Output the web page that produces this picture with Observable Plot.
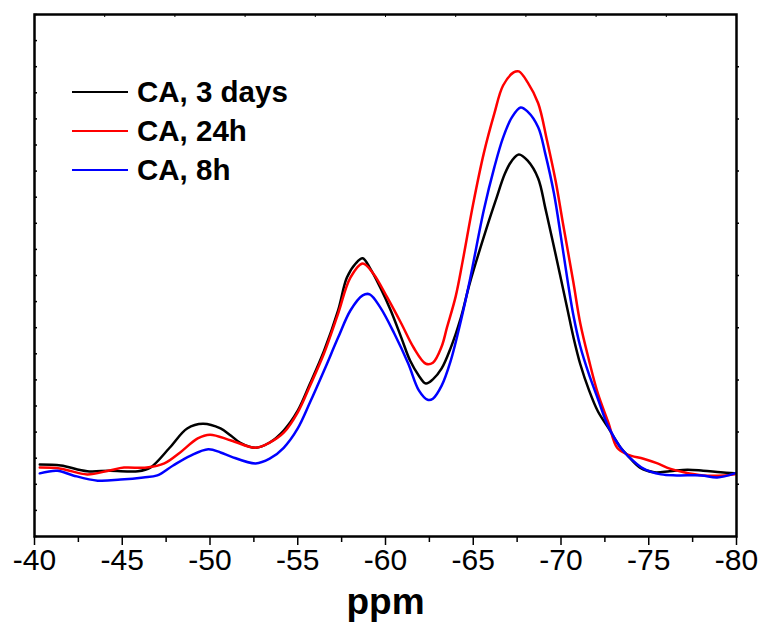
<!DOCTYPE html>
<html>
<head>
<meta charset="utf-8">
<script src="https://cdn.jsdelivr.net/npm/d3@7"></script>
<script src="https://cdn.jsdelivr.net/npm/@observablehq/plot@0.6"></script>
<style>
  html, body { margin: 0; padding: 0; background: #fff; }
  #wrap { position: relative; width: 763px; height: 627px; font-family: "Liberation Sans", Arial, sans-serif; }
  #legend { position: absolute; left: 72px; top: 72px; }
  .row { display: flex; align-items: center; height: 39px; }
  .sw { width: 56px; height: 0; border-top: 2.5px solid; margin-right: 9px; }
  .lab { font-size: 29.5px; font-weight: bold; color: #000; line-height: 1; }
</style>
</head>
<body>
<div id="wrap"></div>
<script>
// Series names and colours
const seriesNames = ["CA, 3 days", "CA, 24h", "CA, 8h"];
const seriesColors = ["#000000", "#ff0000", "#0000ff"];

// Chemical shift (ppm) and intensity (a.u.)
const ppm3days = [-40.3,-41.5,-43.0,-44.3,-45.9,-46.6,-47.7,-48.7,-49.6,-50.6,-51.2,-51.7,-52.6,-53.4,-54.2,-55.0,-55.7,-56.5,-57.3,-57.8,-58.3,-58.7,-59.1,-59.7,-60.3,-60.9,-61.4,-61.9,-62.3,-62.7,-63.2,-63.7,-64.3,-64.8,-65.8,-66.3,-66.8,-67.2,-67.6,-68.1,-68.7,-69.1,-69.5,-70.0,-70.4,-70.7,-71.1,-71.6,-72.1,-72.7,-73.4,-73.8,-74.5,-75.3,-76.2,-77.2,-78.1,-79.1,-79.9];
const int3days = [13.8,13.6,12.5,12.6,12.5,13.2,17.0,20.7,21.6,20.7,19.3,18.0,17.0,18.0,20.3,24.1,29.3,35.6,43.3,49.6,52.3,53.3,51.5,47.7,43.3,38.1,33.7,30.8,29.3,30.1,32.2,36.0,42.0,48.5,59.5,64.6,69.5,72.0,73.2,72.0,68.6,63.0,57.0,49.3,43.0,38.3,33.0,28.0,24.0,20.8,17.0,15.5,13.2,12.3,12.5,12.8,12.6,12.3,12.1];

const ppm24h = [-40.3,-41.5,-43.0,-44.2,-45.1,-46.4,-47.4,-48.3,-49.3,-50.0,-51.2,-52.6,-53.4,-54.2,-55.0,-55.7,-56.5,-57.3,-58.0,-58.7,-59.3,-60.1,-60.9,-61.6,-62.3,-62.7,-63.2,-63.5,-64.0,-64.4,-65.0,-65.6,-66.2,-66.7,-67.3,-67.6,-68.1,-68.7,-69.2,-69.7,-70.1,-70.7,-71.1,-71.6,-72.1,-72.7,-73.2,-73.8,-74.7,-75.5,-76.2,-77.0,-78.1,-79.3,-79.9];
const int24h = [13.2,13.0,11.9,12.6,13.2,13.2,14.0,16.1,18.8,19.5,18.4,17.0,18.0,19.9,23.8,28.9,35.1,42.7,49.6,52.3,50.4,45.8,40.8,36.2,33.1,33.3,36.4,40.0,46.0,52.8,63.8,73.4,81.0,86.4,88.9,89.1,87.0,83.0,75.9,68.0,60.2,48.8,40.8,33.7,27.4,21.8,17.0,15.7,14.9,14.0,13.0,12.3,11.7,11.7,11.9];

const ppm8h = [-40.3,-41.3,-42.2,-43.6,-44.9,-46.2,-47.0,-47.9,-48.9,-49.9,-50.6,-51.2,-52.6,-53.4,-54.2,-55.0,-55.7,-56.5,-57.3,-58.0,-58.7,-59.1,-59.7,-60.5,-61.3,-61.9,-62.4,-62.7,-63.2,-63.7,-64.3,-64.8,-65.6,-66.2,-66.7,-67.2,-67.7,-68.1,-68.7,-69.1,-69.6,-70.0,-70.4,-70.7,-71.1,-71.6,-72.1,-72.7,-73.4,-73.8,-74.7,-75.7,-76.6,-78.0,-78.9,-79.9];
const int8h = [12.1,12.6,11.7,10.7,10.9,11.3,11.7,13.6,15.5,16.7,16.1,15.3,14.0,14.9,17.0,20.7,25.7,31.8,38.1,43.3,46.2,46.4,43.9,38.9,33.1,28.0,26.2,26.4,28.9,33.5,41.4,49.0,62.5,70.7,76.4,80.3,82.2,81.4,78.4,73.4,65.7,57.3,48.5,42.5,36.4,31.0,26.4,21.0,17.0,15.5,13.0,11.9,11.7,11.7,11.3,12.1];

// Axis ticks
const xMajorTicks = [-40,-45,-50,-55,-60,-65,-70,-75,-80];
const xMinorTicks = [-42.5,-47.5,-52.5,-57.5,-62.5,-67.5,-72.5,-77.5];
const xTopTicks = [-44,-48,-52,-56,-60,-64,-68,-72,-76];
const yLeftTicks = d3.range(0, 101, 5);
const yRightTicks = d3.range(10, 100, 10);

const seriesX = [ppm3days, ppm24h, ppm8h];
const seriesY = [int3days, int24h, int8h];
const rows = seriesNames.flatMap((name, i) =>
  seriesX[i].map((p, j) => ({series: name, ppm: p, intensity: seriesY[i][j]})));

const chart = Plot.plot({
  width: 763,
  height: 627,
  marginLeft: 34,
  marginRight: 27,
  marginTop: 14,
  marginBottom: 91,
  style: {fontFamily: "Liberation Sans, Arial, sans-serif", background: "#fff", color: "#000"},
  x: {domain: [-40, -80], label: null},
  y: {domain: [0, 100], label: null},
  color: {domain: seriesNames, range: seriesColors},
  marks: [
    Plot.axisX(xMajorTicks, {anchor: "bottom", tickSize: 9, tickPadding: 3, fontSize: 30, strokeWidth: 1.5, tickFormat: d => String(d).replace("−", "-"), label: null}),
    Plot.axisX(xMinorTicks, {anchor: "bottom", tickSize: 6, strokeWidth: 1.5, text: null, label: null}),
    Plot.axisX(xTopTicks, {anchor: "top", tickSize: -2, strokeWidth: 1, text: null, label: null}),
    Plot.axisY(yLeftTicks, {anchor: "left", tickSize: -3, strokeWidth: 1.5, text: null, label: null}),
    Plot.axisY(yRightTicks, {anchor: "right", tickSize: 2, strokeWidth: 1.5, text: null, label: null}),
    Plot.line(rows, {x: "ppm", y: "intensity", z: "series", stroke: "series", strokeWidth: 2.5, curve: "catmull-rom"}),
    Plot.frame({stroke: "#000", strokeWidth: 2.5}),
    Plot.text(["ppm"], {frameAnchor: "bottom", lineAnchor: "bottom", dy: 77, fontSize: 37, fontWeight: "bold", fill: "#000"})
  ]
});

const wrap = document.getElementById("wrap");
wrap.appendChild(chart);

const legend = document.createElement("div");
legend.id = "legend";
seriesNames.forEach((name, i) => {
  const row = document.createElement("div");
  row.className = "row";
  const sw = document.createElement("span");
  sw.className = "sw";
  sw.style.borderTopColor = seriesColors[i];
  const lab = document.createElement("span");
  lab.className = "lab";
  lab.textContent = name;
  row.appendChild(sw);
  row.appendChild(lab);
  legend.appendChild(row);
});
wrap.appendChild(legend);
</script>
</body>
</html>
